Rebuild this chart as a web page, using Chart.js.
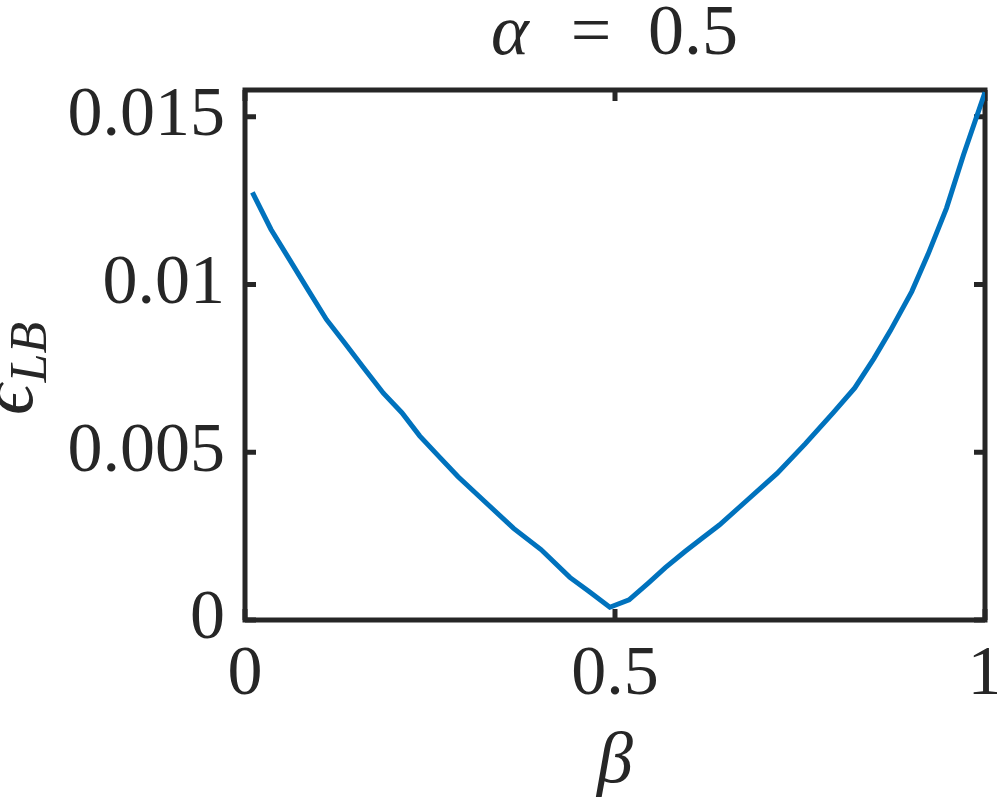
<!DOCTYPE html>
<html>
<head>
<meta charset="utf-8">
<script src="https://cdn.jsdelivr.net/npm/chart.js@4.4.1/dist/chart.umd.min.js"></script>
<style>
  html, body { margin: 0; padding: 0; background: #fff; }
  #wrap { width: 997px; height: 806px; position: relative; }
</style>
</head>
<body>
<div id="wrap"><canvas id="chart"></canvas></div>
<script>
// beta values and the lower-bound error
const betaVals = [
  0.010, 0.035, 0.060, 0.085, 0.110, 0.135, 0.160, 0.187, 0.212, 0.236,
  0.261, 0.288, 0.325, 0.363, 0.400, 0.439, 0.465, 0.493, 0.519, 0.545,
  0.568, 0.595, 0.619, 0.641, 0.680, 0.719, 0.757, 0.795, 0.824, 0.850,
  0.872, 0.901, 0.923, 0.948, 0.971, 1.000
];
const epsLB = [
  0.01275, 0.01165, 0.01075, 0.00985, 0.00896, 0.00825, 0.00753, 0.00676, 0.00618, 0.00549,
  0.00490, 0.00427, 0.00351, 0.00273, 0.00210, 0.00127, 0.00085, 0.00038, 0.00060, 0.00110,
  0.00156, 0.00205, 0.00246, 0.00283, 0.00360, 0.00437, 0.00525, 0.00618, 0.00692, 0.00780,
  0.00862, 0.00979, 0.01090, 0.01228, 0.01387, 0.01573
];
const xTicks = [0, 0.5, 1];
const yTicks = [0, 0.005, 0.01, 0.015];

const TEXT = "#262626";
const FONT = "'Liberation Serif', 'DejaVu Serif', serif";

// frame + inward ticks on all four sides (MATLAB "box on")
const framePlugin = {
  id: "frame",
  beforeDatasetsDraw(chart) {
    const { ctx, chartArea: a, scales } = chart;
    ctx.save();
    ctx.strokeStyle = TEXT;
    ctx.lineWidth = 5;
    ctx.strokeRect(a.left, a.top, a.right - a.left, a.bottom - a.top);
    const len = 11;
    ctx.beginPath();
    xTicks.forEach((v) => {
      const px = scales.x.getPixelForValue(v);
      ctx.moveTo(px, a.bottom); ctx.lineTo(px, a.bottom - len);
      ctx.moveTo(px, a.top); ctx.lineTo(px, a.top + len);
    });
    yTicks.forEach((v) => {
      const py = scales.y.getPixelForValue(v);
      ctx.moveTo(a.left, py); ctx.lineTo(a.left + len, py);
      ctx.moveTo(a.right, py); ctx.lineTo(a.right - len, py);
    });
    ctx.stroke();
    ctx.restore();
  },
  afterDraw(chart) {
    const { ctx, chartArea: a } = chart;
    const cx = (a.left + a.right) / 2;
    ctx.save();
    ctx.fillStyle = TEXT;
    ctx.textBaseline = "alphabetic";

    // title: alpha = 0.5
    ctx.font = "italic 72px " + FONT;
    ctx.textAlign = "left";
    ctx.fillText("α", cx - 124, 54);
    ctx.font = "72px " + FONT;
    ctx.textAlign = "center";
    ctx.fillText("=", cx - 24, 54);
    ctx.textAlign = "right";
    ctx.fillText("0.5", cx + 123, 54);

    // x label
    ctx.font = "italic 72px " + FONT;
    ctx.textAlign = "center";
    ctx.fillText("β", cx, 782);

    // y label: epsilon_LB, rotated
    const cy = (a.top + a.bottom) / 2;
    ctx.translate(32, cy + 60);
    ctx.rotate(-Math.PI / 2);
    ctx.textAlign = "left";
    ctx.font = "italic 76px " + FONT;
    ctx.fillText("ϵ", 0, 0);
    const w = ctx.measureText("ϵ").width;
    ctx.font = "italic 52px " + FONT;
    ctx.fillText("LB", w + 2, 14);
    ctx.restore();
  }
};

const fmt = (v) => String(+Number(v).toFixed(3));

new Chart(document.getElementById("chart"), {
  type: "line",
  data: {
    datasets: [{
      data: betaVals.map((b, i) => ({ x: b, y: epsLB[i] })),
      borderColor: "#0072BD",
      borderWidth: 5,
      pointRadius: 0,
      tension: 0,
      fill: false
    }]
  },
  options: {
    responsive: true,
    maintainAspectRatio: false,
    animation: false,
    layout: { padding: { left: 0, top: 90, right: 12, bottom: 0 } },
    plugins: { legend: { display: false }, tooltip: { enabled: false }, title: { display: false } },
    scales: {
      x: {
        type: "linear",
        min: 0, max: 1,
        grid: { display: false, drawTicks: false },
        border: { display: false },
        afterBuildTicks: (s) => { s.ticks = xTicks.map((v) => ({ value: v })); },
        ticks: { color: TEXT, font: { family: FONT, size: 70 }, padding: 14, maxRotation: 0, callback: fmt },
        afterFit: (s) => { s.height = 186; s.paddingLeft = 0; s.paddingRight = 0; }
      },
      y: {
        type: "linear",
        min: 0, max: 0.0158,
        grid: { display: false, drawTicks: false },
        border: { display: false },
        afterBuildTicks: (s) => { s.ticks = yTicks.map((v) => ({ value: v })); },
        ticks: { color: TEXT, font: { family: FONT, size: 70 }, padding: 20, callback: fmt },
        afterFit: (s) => { s.width = 245; s.paddingTop = 0; s.paddingBottom = 0; }
      }
    }
  },
  plugins: [framePlugin]
});
</script>
</body>
</html>
